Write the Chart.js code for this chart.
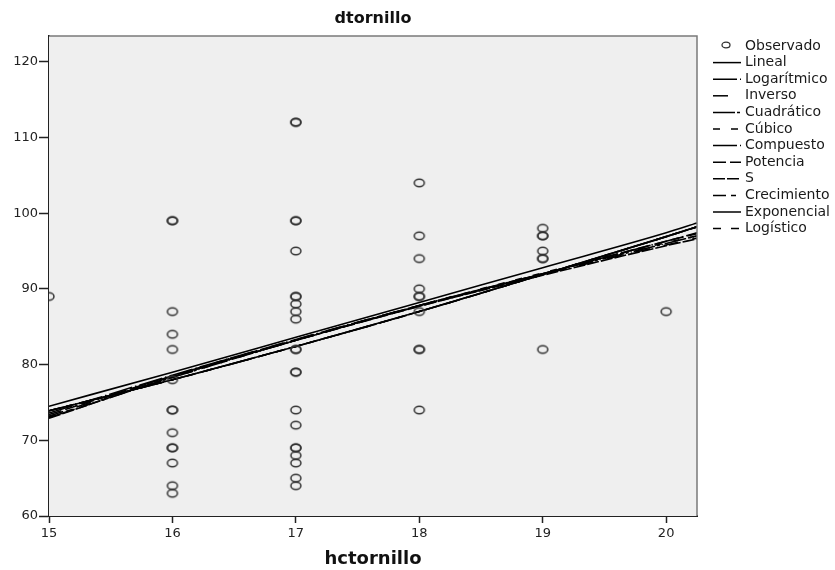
<!DOCTYPE html>
<html>
<head>
<meta charset="utf-8">
<script src="https://cdn.jsdelivr.net/npm/chart.js@4/dist/chart.umd.min.js"></script>
<style>
  html, body { margin: 0; padding: 0; background: #ffffff; }
  canvas { display: block; }
</style>
</head>
<body>
<canvas id="chart" width="835" height="570"></canvas>
<script>
// ---- texts and ticks ----
const chartTitle = 'dtornillo';
const xAxisTitle = 'hctornillo';
const xTicks = [15, 16, 17, 18, 19, 20];
const yTicks = [60, 70, 80, 90, 100, 110, 120];

// ---- observed cases (hctornillo, dtornillo) ----
const obsX = [
  15,
  16, 16, 16, 16, 16, 16, 16, 16, 16, 16, 16, 16, 16, 16,
  17, 17, 17, 17, 17, 17, 17, 17, 17, 17, 17, 17, 17, 17, 17, 17, 17, 17, 17, 17, 17, 17,
  18, 18, 18, 18, 18, 18, 18, 18, 18, 18,
  19, 19, 19, 19, 19, 19, 19,
  20
];
const obsY = [
  89,
  99, 99, 87, 84, 82, 78, 74, 74, 71, 69, 69, 67, 64, 63,
  112, 112, 99, 99, 95, 89, 89, 88, 87, 86, 82, 82, 79, 79, 74, 72, 69, 69, 68, 67, 65, 64,
  104, 97, 94, 90, 89, 89, 87, 82, 82, 74,
  98, 97, 97, 95, 94, 94, 82,
  87
];

// ---- fitted curves, values at these hctornillo positions ----
const fitX = [15, 16, 17, 18, 19, 20, 20.25];
const lineal      = [74.5, 79.0, 83.6, 88.2, 92.8, 97.4, 98.7];
const logaritmico = [73.6, 78.6, 83.3, 87.8, 92.0, 96.3, 97.4];
const inverso     = [73.2, 78.5, 83.3, 87.8, 91.9, 95.8, 96.7];
const cuadratico  = [73.0, 78.3, 83.2, 87.8, 92.0, 96.0, 97.0];
const cubico      = [73.1, 78.3, 83.2, 87.8, 92.1, 96.1, 97.0];
const compuesto   = [73.9, 78.0, 82.4, 87.0, 91.9, 96.9, 98.2];
const potencia    = [73.4, 78.5, 83.2, 87.7, 92.0, 96.3, 97.3];
const curvaS      = [72.9, 78.4, 83.2, 87.7, 91.8, 95.7, 96.6];
const crecimiento = [73.9, 78.0, 82.4, 87.0, 91.9, 96.9, 98.2];
const exponencial = [73.9, 78.0, 82.4, 87.0, 91.9, 96.9, 98.2];
const logistico   = [73.9, 78.0, 82.4, 87.0, 91.9, 96.9, 98.2];

const FONT = '"DejaVu Sans", "Liberation Sans", Arial, sans-serif';

// open elliptical marker used for the observed cases
function ringMarker(w, h, rx, ry, lw) {
  const c = document.createElement('canvas');
  c.width = w; c.height = h;
  const g = c.getContext('2d');
  g.strokeStyle = '#333333';
  g.lineWidth = lw;
  g.beginPath();
  g.ellipse(w / 2, h / 2, rx, ry, 0, 0, Math.PI * 2);
  g.stroke();
  return c;
}
const ring = ringMarker(14, 12, 5.0, 3.7, 1.5);
const legendRing = ringMarker(12, 10, 4.0, 2.9, 1.3);

const pairs = (xs, ys) => xs.map((x, i) => ({ x: x, y: ys[i] }));

function fitSet(label, values, dash) {
  return {
    label: label,
    data: pairs(fitX, values),
    showLine: true,
    borderColor: '#000000',
    borderWidth: 1.6,
    borderDash: dash,
    pointRadius: 0,
    tension: 0.4,
    cubicInterpolationMode: 'monotone',
    fill: false,
    clip: 0
  };
}

const datasets = [
  {
    label: 'Observado',
    data: pairs(obsX, obsY),
    showLine: false,
    pointStyle: ring,
    pointRadius: 5,
    clip: 0
  },
  fitSet('Lineal', lineal, []),
  fitSet('Logarítmico', logaritmico, [24, 3, 1.5, 3]),
  fitSet('Inverso', inverso, [15, 14]),
  fitSet('Cuadrático', cuadratico, [22, 2, 3, 2, 1, 2]),
  fitSet('Cúbico', cubico, [7, 11]),
  fitSet('Compuesto', compuesto, [24, 3, 1.5, 3]),
  fitSet('Potencia', potencia, [13, 4]),
  fitSet('S', curvaS, [12, 2]),
  fitSet('Crecimiento', crecimiento, [13, 5, 5, 8]),
  fitSet('Exponencial', exponencial, []),
  fitSet('Logístico', logistico, [8, 10])
];

// grey plotting panel with its frame
const panel = {
  id: 'panel',
  beforeDatasetsDraw(chart) {
    const { ctx, chartArea: a } = chart;
    ctx.save();
    ctx.fillStyle = '#efefef';
    ctx.fillRect(a.left, a.top, a.right - a.left, a.bottom - a.top);
    ctx.restore();
  },
  afterDatasetsDraw(chart) {
    const { ctx, chartArea: a } = chart;
    ctx.save();
    ctx.strokeStyle = '#7a7a7a';
    ctx.lineWidth = 1.5;
    ctx.beginPath();
    ctx.moveTo(a.left, a.top);
    ctx.lineTo(a.right, a.top);
    ctx.lineTo(a.right, a.bottom);
    ctx.stroke();
    ctx.restore();
  }
};

// key listed to the right of the panel
const sideLegend = {
  id: 'sideLegend',
  afterDraw(chart) {
    const ctx = chart.ctx;
    const x0 = chart.chartArea.right + 16;
    const sampleLen = 28;
    const top = 46, step = 16.6;
    ctx.save();
    ctx.font = '14px ' + FONT;
    ctx.textBaseline = 'middle';
    ctx.textAlign = 'left';
    chart.data.datasets.forEach((ds, i) => {
      const y = top + i * step;
      if (ds.showLine) {
        ctx.save();
        ctx.strokeStyle = '#000000';
        ctx.lineWidth = 1.5;
        ctx.setLineDash(ds.borderDash || []);
        ctx.beginPath();
        ctx.moveTo(x0, y);
        ctx.lineTo(x0 + sampleLen, y);
        ctx.stroke();
        ctx.restore();
      } else {
        ctx.drawImage(legendRing, x0 + 13 - legendRing.width / 2, y - 1 - legendRing.height / 2);
      }
      ctx.fillStyle = '#1a1a1a';
      ctx.fillText(ds.label, x0 + sampleLen + 4, y);
    });
    ctx.restore();
  }
};

new Chart(document.getElementById('chart'), {
  type: 'scatter',
  data: { datasets: datasets },
  plugins: [panel, sideLegend],
  options: {
    responsive: false,
    animation: false,
    events: [],
    layout: { padding: { left: 0, right: 138, top: 0, bottom: 0 } },
    plugins: {
      legend: { display: false },
      tooltip: { enabled: false },
      title: {
        display: true,
        text: chartTitle,
        fullSize: false,
        color: '#111111',
        font: { family: FONT, size: 16, weight: 'bold' },
        padding: { top: 9, bottom: 7.8 }
      }
    },
    scales: {
      x: {
        type: 'linear',
        min: 15,
        max: 20.25,
        afterBuildTicks: (s) => { s.ticks = xTicks.map(v => ({ value: v })); },
        afterFit: (s) => { s.height = 54; },
        ticks: {
          color: '#222222',
          font: { family: FONT, size: 13 },
          padding: 3,
          maxRotation: 0
        },
        grid: {
          drawOnChartArea: false,
          drawTicks: true,
          tickLength: 7,
          tickColor: '#222222',
          tickWidth: 1.5
        },
        border: { display: true, color: '#222222', width: 2 },
        title: {
          display: true,
          text: xAxisTitle,
          color: '#111111',
          font: { family: FONT, size: 18, weight: 'bold' },
          padding: { top: 4, bottom: 0 }
        }
      },
      y: {
        type: 'linear',
        min: 60,
        max: 123.4,
        afterBuildTicks: (s) => { s.ticks = yTicks.map(v => ({ value: v })); },
        afterFit: (s) => { s.width = 49; },
        ticks: {
          color: '#222222',
          font: { family: FONT, size: 13 },
          padding: 1
        },
        grid: {
          drawOnChartArea: false,
          drawTicks: true,
          tickLength: 10,
          tickColor: '#222222',
          tickWidth: 1.5
        },
        border: { display: true, color: '#222222', width: 2 }
      }
    }
  }
});
</script>
</body>
</html>
